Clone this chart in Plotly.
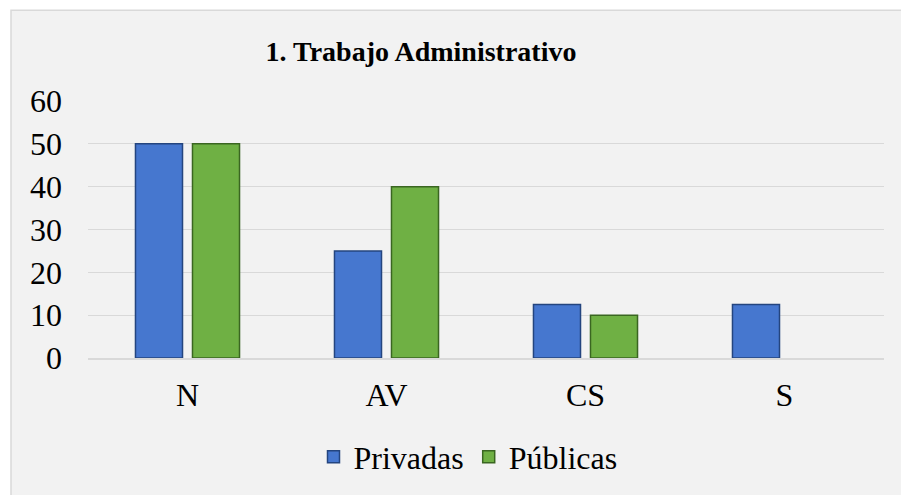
import plotly.graph_objects as go

categories = ["N", "AV", "CS", "S"]
privadas = [50, 25, 12.5, 12.5]
publicas = [50, 40, 10, 0]
series_names = ["Privadas", "Públicas"]
title_text = "1. Trabajo Administrativo"
y_ticks = [0, 10, 20, 30, 40, 50, 60]

FONT = "Liberation Serif, Times New Roman, serif"
BG = "#f2f2f2"
W, H = 901, 495
L, R, T, B = 88, 17, 101, 136
pw, ph = W - L - R, H - T - B


def px_x(p):
    return (p - L) / pw


def px_y(p):
    return (H - B - p) / ph


fig = go.Figure()
fig.add_trace(go.Bar(
    x=categories, y=privadas, name=series_names[0],
    marker=dict(color="#4677CF",
                line=dict(color="#24457F", width=[1.5 if v else 0 for v in privadas])),
))
fig.add_trace(go.Bar(
    x=categories, y=publicas, name=series_names[1],
    marker=dict(color="#6FB044",
                line=dict(color="#3A6621", width=[1.5 if v else 0 for v in publicas])),
))

# white page strips outside the chart frame (left and top)
fig.add_shape(type="rect", xref="paper", yref="paper",
              x0=px_x(-5), x1=px_x(11), y0=px_y(510), y1=px_y(-5),
              line=dict(width=0), fillcolor="white", layer="below")
fig.add_shape(type="rect", xref="paper", yref="paper",
              x0=px_x(-5), x1=px_x(915), y0=px_y(10), y1=px_y(-5),
              line=dict(width=0), fillcolor="white", layer="below")
# chart frame
fig.add_shape(type="rect", xref="paper", yref="paper",
              x0=px_x(11), x1=px_x(915), y0=px_y(510), y1=px_y(10),
              line=dict(color="#d9d9d9", width=1.5), fillcolor="rgba(0,0,0,0)",
              layer="below")

fig.update_layout(
    width=W, height=H,
    margin=dict(l=L, r=R, t=T, b=B),
    paper_bgcolor=BG,
    plot_bgcolor="rgba(0,0,0,0)",
    font=dict(family=FONT, size=32, color="black"),
    title=dict(text="<b>" + title_text + "</b>", x=px_x(421), xanchor="center",
               xref="paper", yref="container", y=1 - 51 / H, yanchor="middle",
               font=dict(family=FONT, size=28, color="black")),
    barmode="group",
    bargap=0.427,
    bargroupgap=0.175,
    showlegend=True,
    hovermode=False,
    legend=dict(orientation="h", x=px_x(468), xanchor="center",
                y=px_y(457), yanchor="middle",
                font=dict(family=FONT, size=32, color="black"),
                bgcolor="rgba(0,0,0,0)", itemwidth=30),
    xaxis=dict(showline=True, linecolor="#d9d9d9", linewidth=1.5,
               showgrid=False, ticks="", ticklabelstandoff=8,
               tickfont=dict(family=FONT, size=32, color="black")),
    yaxis=dict(range=[0, 60], tickvals=y_ticks, showgrid=True,
               gridcolor="#d9d9d9", gridwidth=1.2, zeroline=False,
               showline=False, ticks="", ticklabelstandoff=25,
               tickfont=dict(family=FONT, size=32, color="black")),
)

fig.write_html(
    "out.html",
    config={"displayModeBar": False},
    post_script=("document.body.style.margin='0';"
                 "document.body.style.overflow='hidden';"
                 "document.body.style.background='" + BG + "';"),
)
